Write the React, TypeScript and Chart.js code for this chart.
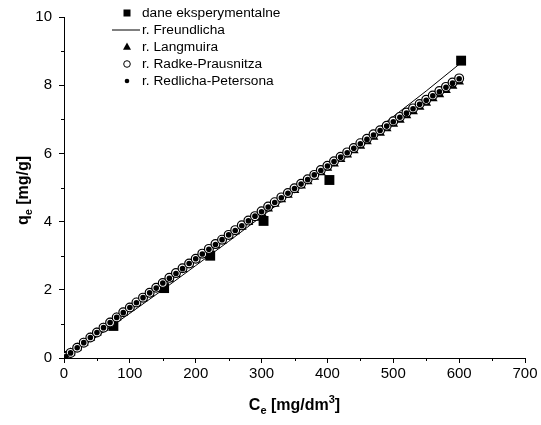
import React, { useEffect, useRef } from "react";
import { Chart, registerables } from "chart.js";

Chart.register(...registerables);

const expC = [4, 75, 152, 222, 303, 403, 603];
const expQ = [0.06, 0.94, 2.05, 3.0, 4.02, 5.22, 8.72];

const freundC = [0, 25, 50, 100, 150, 200, 250, 300, 350, 400, 450, 500, 550, 603];
const freundQ = [0, 0.3, 0.63, 1.31, 2.0, 2.71, 3.42, 4.15, 4.88, 5.61, 6.34, 7.08, 7.83, 8.66];

const fitC = [3, 10, 20, 30, 40, 50, 60, 70, 80, 90, 100, 110, 120, 130, 140, 150, 160, 170, 180, 190, 200,
  210, 220, 230, 240, 250, 260, 270, 280, 290, 300, 310, 320, 330, 340, 350, 360, 370, 380, 390, 400,
  410, 420, 430, 440, 450, 460, 470, 480, 490, 500, 510, 520, 530, 540, 550, 560, 570, 580, 590, 600];

const langmuirQ = [0.04, 0.15, 0.30, 0.44, 0.59, 0.74, 0.88, 1.03, 1.18, 1.32, 1.46, 1.61, 1.75, 1.89, 2.04, 2.18,
  2.32, 2.46, 2.60, 2.74, 2.88, 3.02, 3.16, 3.30, 3.43, 3.57, 3.71, 3.84, 3.98, 4.11, 4.25, 4.38, 4.52, 4.65,
  4.78, 4.92, 5.05, 5.18, 5.31, 5.44, 5.57, 5.70, 5.83, 5.96, 6.09, 6.22, 6.35, 6.48, 6.60, 6.73, 6.86, 6.98,
  7.11, 7.23, 7.36, 7.48, 7.61, 7.73, 7.85, 7.98, 8.10];

const radkeQ = [0.04, 0.15, 0.30, 0.45, 0.60, 0.75, 0.89, 1.04, 1.19, 1.34, 1.48, 1.63, 1.77, 1.91, 2.06, 2.20,
  2.35, 2.49, 2.63, 2.77, 2.91, 3.06, 3.20, 3.34, 3.47, 3.61, 3.75, 3.89, 4.03, 4.16, 4.30, 4.44, 4.57, 4.71,
  4.84, 4.98, 5.11, 5.24, 5.37, 5.51, 5.64, 5.77, 5.90, 6.03, 6.16, 6.30, 6.43, 6.56, 6.68, 6.81, 6.94, 7.07,
  7.20, 7.32, 7.45, 7.57, 7.70, 7.83, 7.95, 8.08, 8.20];

const redlichQ = [0.04, 0.15, 0.30, 0.45, 0.60, 0.75, 0.89, 1.04, 1.19, 1.33, 1.48, 1.62, 1.77, 1.91, 2.05, 2.20,
  2.34, 2.48, 2.62, 2.77, 2.91, 3.05, 3.19, 3.33, 3.47, 3.61, 3.74, 3.88, 4.02, 4.16, 4.29, 4.43, 4.56, 4.70,
  4.83, 4.97, 5.10, 5.23, 5.37, 5.50, 5.63, 5.76, 5.89, 6.02, 6.15, 6.28, 6.41, 6.54, 6.67, 6.80, 6.93, 7.06,
  7.18, 7.31, 7.44, 7.56, 7.69, 7.81, 7.94, 8.06, 8.19];

const legendLabels = [
  "dane eksperymentalne",
  "r. Freundlicha",
  "r. Langmuira",
  "r. Radke-Prausnitza",
  "r. Redlicha-Petersona",
];

const FONT = '"Liberation Sans", Arial, sans-serif';

const pts = (xs: number[], ys: number[]) => xs.map((x, i) => ({ x, y: ys[i] }));

type Seg = { text: string; size: number; dy: number };

function drawRich(ctx: CanvasRenderingContext2D, segs: Seg[], cx: number, baseY: number) {
  let total = 0;
  for (const s of segs) {
    ctx.font = `bold ${s.size}px ${FONT}`;
    total += ctx.measureText(s.text).width;
  }
  let x = cx - total / 2;
  ctx.textAlign = "left";
  ctx.textBaseline = "alphabetic";
  for (const s of segs) {
    ctx.font = `bold ${s.size}px ${FONT}`;
    ctx.fillText(s.text, x, baseY + s.dy);
    x += ctx.measureText(s.text).width;
  }
}

function marker(ctx: CanvasRenderingContext2D, kind: string, x: number, y: number) {
  ctx.save();
  ctx.fillStyle = "#000";
  ctx.strokeStyle = "#000";
  ctx.lineWidth = 1;
  if (kind === "rect") {
    ctx.fillRect(x - 3.5, y - 3.5, 7, 7);
  } else if (kind === "line") {
    ctx.beginPath();
    ctx.moveTo(x - 15, y);
    ctx.lineTo(x + 13, y);
    ctx.stroke();
  } else if (kind === "triangle") {
    ctx.beginPath();
    ctx.moveTo(x, y - 4.5);
    ctx.lineTo(x + 4, y + 2.8);
    ctx.lineTo(x - 4, y + 2.8);
    ctx.closePath();
    ctx.fill();
  } else if (kind === "open") {
    ctx.beginPath();
    ctx.arc(x, y, 3.3, 0, Math.PI * 2);
    ctx.fillStyle = "#fff";
    ctx.fill();
    ctx.stroke();
  } else {
    ctx.beginPath();
    ctx.arc(x, y, 2.3, 0, Math.PI * 2);
    ctx.fill();
  }
  ctx.restore();
}

const decorPlugin = {
  id: "decor",
  afterDraw(chart: any) {
    const ctx: CanvasRenderingContext2D = chart.ctx;
    const ca = chart.chartArea;
    const xs = chart.scales.x;
    const ys = chart.scales.y;
    ctx.save();
    ctx.strokeStyle = "#000";
    ctx.lineWidth = 1;
    const xt = xs.ticks.map((t: any) => t.value);
    for (let i = 0; i < xt.length - 1; i++) {
      const px = Math.round(xs.getPixelForValue((xt[i] + xt[i + 1]) / 2)) + 0.5;
      ctx.beginPath();
      ctx.moveTo(px, ca.bottom);
      ctx.lineTo(px, ca.bottom + 3);
      ctx.stroke();
    }
    const yt = ys.ticks.map((t: any) => t.value);
    for (let i = 0; i < yt.length - 1; i++) {
      const py = Math.round(ys.getPixelForValue((yt[i] + yt[i + 1]) / 2)) + 0.5;
      ctx.beginPath();
      ctx.moveTo(ca.left - 3, py);
      ctx.lineTo(ca.left, py);
      ctx.stroke();
    }
    ctx.fillStyle = "#000";
    drawRich(
      ctx,
      [
        { text: "C", size: 16, dy: 0 },
        { text: "e", size: 11, dy: 4 },
        { text: " [mg/dm", size: 16, dy: 0 },
        { text: "3", size: 11, dy: -7 },
        { text: "]", size: 16, dy: 0 },
      ],
      (ca.left + ca.right) / 2,
      410
    );
    ctx.save();
    ctx.translate(28, (ca.top + ca.bottom) / 2 + 3);
    ctx.rotate(-Math.PI / 2);
    drawRich(
      ctx,
      [
        { text: "q", size: 16, dy: 0 },
        { text: "e", size: 11, dy: 4 },
        { text: " [mg/g]", size: 16, dy: 0 },
      ],
      0,
      0
    );
    ctx.restore();
    const kinds = ["rect", "line", "triangle", "open", "dot"];
    ctx.font = `13.7px ${FONT}`;
    ctx.textBaseline = "middle";
    ctx.textAlign = "left";
    legendLabels.forEach((lab, i) => {
      const y = ca.top - 4 + i * 17;
      marker(ctx, kinds[i], ca.left + 63, y);
      ctx.fillStyle = "#000";
      ctx.fillText(lab, ca.left + 78, y);
    });
    ctx.restore();
  },
};

export default function App() {
  const ref = useRef<HTMLCanvasElement | null>(null);
  useEffect(() => {
    if (!ref.current) return;
    const tickFont = { family: FONT, size: 15 };
    const chart = new Chart(ref.current, {
      type: "scatter",
      data: {
        datasets: [
          {
            label: legendLabels[4],
            data: pts(fitC, redlichQ),
            pointStyle: "circle",
            pointRadius: 2.8,
            backgroundColor: "#000",
            borderColor: "#000",
            borderWidth: 0,
            order: 0,
          },
          {
            label: legendLabels[3],
            data: pts(fitC, radkeQ),
            pointStyle: "circle",
            pointRadius: 4.4,
            backgroundColor: "#fff",
            borderColor: "#000",
            borderWidth: 1.2,
            order: 1,
          },
          {
            label: legendLabels[2],
            data: pts(fitC, langmuirQ),
            pointStyle: "triangle",
            pointRadius: 5.6,
            backgroundColor: "#000",
            borderColor: "#000",
            borderWidth: 0,
            order: 2,
          },
          {
            label: legendLabels[1],
            data: pts(freundC, freundQ),
            showLine: true,
            pointRadius: 0,
            borderColor: "#000",
            borderWidth: 1,
            order: 3,
          },
          {
            label: legendLabels[0],
            data: pts(expC, expQ),
            pointStyle: "rect",
            pointRadius: 7,
            backgroundColor: "#000",
            borderColor: "#000",
            borderWidth: 0,
            order: 4,
          },
        ],
      },
      options: {
        animation: false,
        responsive: false,
        layout: { padding: { top: 17, right: 16, left: 0, bottom: 0 } },
        plugins: { legend: { display: false }, tooltip: { enabled: false } },
        scales: {
          x: {
            type: "linear",
            min: 0,
            max: 700,
            ticks: { stepSize: 100, color: "#000", font: tickFont, padding: 2, autoSkip: false, maxRotation: 0 },
            grid: { drawOnChartArea: false, color: "#000", tickLength: 5 },
            border: { color: "#000", width: 1 },
            afterFit: (s: any) => {
              s.height = 67;
            },
          },
          y: {
            type: "linear",
            min: 0,
            max: 10,
            ticks: { stepSize: 2, color: "#000", font: tickFont, padding: 7 },
            grid: { drawOnChartArea: false, color: "#000", tickLength: 5 },
            border: { color: "#000", width: 1 },
            afterFit: (s: any) => {
              s.width = 64;
            },
          },
        },
      },
      plugins: [decorPlugin],
    } as any);
    return () => chart.destroy();
  }, []);
  return (
    <div style={{ position: "fixed", left: 0, top: 0, width: 541, height: 425, background: "#fff" }}>
      <canvas ref={ref} width={541} height={425} style={{ display: "block" }} />
    </div>
  );
}
